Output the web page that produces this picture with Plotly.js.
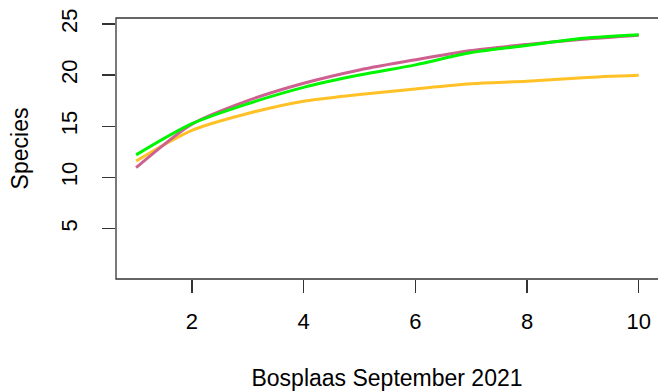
<!DOCTYPE html>
<html>
<head>
<meta charset="utf-8">
<script src="https://cdn.plot.ly/plotly-3.0.1.min.js"></script>
<style>html,body{margin:0;padding:0;background:#fff;}#chart{width:658px;height:392px;}</style>
</head>
<body>
<div id="chart"></div>
<script>
var samples = [1, 2, 3, 4, 5, 6, 7, 8, 9, 10];
var seriesPink = [10.95, 15.2, 17.5, 19.2, 20.5, 21.5, 22.4, 23.0, 23.5, 23.9];
var seriesGreen = [12.2, 15.25, 17.2, 18.8, 20.0, 21.0, 22.2, 22.9, 23.6, 23.95];
var seriesOrange = [11.6, 14.6, 16.25, 17.45, 18.1, 18.65, 19.15, 19.4, 19.75, 19.98];
var xTicks = [2, 4, 6, 8, 10];
var yTicks = [5, 10, 15, 20, 25];

var tickFont = {family: 'Liberation Sans, Arial, sans-serif', size: 22, color: '#000'};
var titleFont = {family: 'Liberation Sans, Arial, sans-serif', size: 23, color: '#000'};

function line(y, color) {
  return {x: samples, y: y, type: 'scatter', mode: 'lines',
          line: {color: color, width: 3, shape: 'spline', smoothing: 0.8},
          hoverinfo: 'skip', showlegend: false};
}

var data = [
  line(seriesOrange, '#FFC125'),
  line(seriesPink, '#CD6090'),
  line(seriesGreen, '#00F500')
];

var layout = {
  width: 658, height: 392,
  margin: {l: 115.5, r: 0, t: 17.5, b: 112.7, pad: 0},
  paper_bgcolor: '#fff', plot_bgcolor: '#fff',
  font: tickFont,
  showlegend: false,
  xaxis: {
    range: [0.64, 10.345], tickvals: xTicks, ticktext: xTicks.map(String),
    showgrid: false, zeroline: false, showline: false,
    ticks: 'outside', ticklen: 13, tickwidth: 1.3, tickcolor: '#333',
    tickfont: tickFont, ticklabelstandoff: 10,
    title: {text: 'Bosplaas September 2021', font: titleFont, standoff: 36},
    automargin: false
  },
  yaxis: {
    range: [0.07, 25.58], tickvals: yTicks, ticktext: yTicks.map(String),
    showgrid: false, zeroline: false, showline: false,
    ticks: 'outside', ticklen: 13, tickwidth: 1.3, tickcolor: '#333',
    tickfont: tickFont, tickangle: -90, ticklabelstandoff: 16,
    title: {text: 'Species', font: titleFont, standoff: 22},
    automargin: false
  },
  shapes: [{
    type: 'rect', xref: 'paper', yref: 'paper', x0: 0, x1: 1.02, y0: 0, y1: 1,
    line: {color: '#333', width: 1.3}, fillcolor: 'rgba(0,0,0,0)', layer: 'above'
  }]
};

Plotly.newPlot('chart', data, layout, {displayModeBar: false, staticPlot: true});
</script>
</body>
</html>
